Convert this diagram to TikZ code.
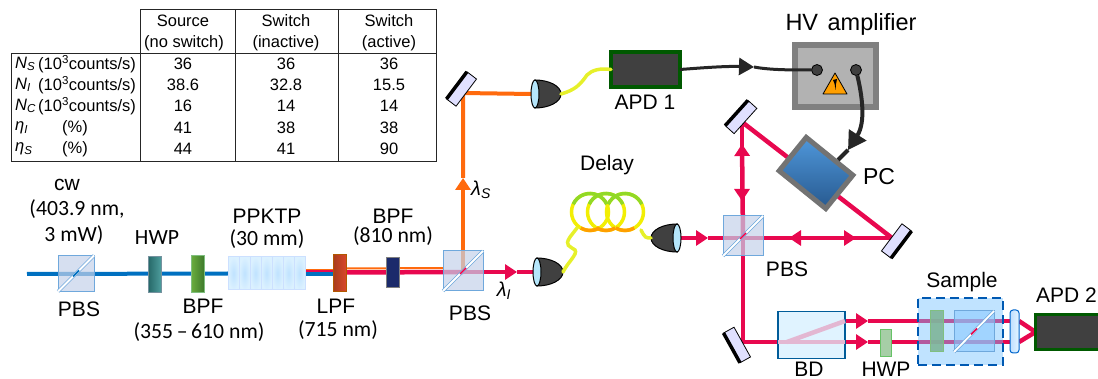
\documentclass[tikz,border=0pt]{standalone}
\usepackage{fontspec}
\setmainfont{Liberation Sans}
\newfontfamily\calfont{Carlito}
\usetikzlibrary{positioning,calc,arrows.meta,backgrounds}
\definecolor{pumpblue}{HTML}{0070C0}
\definecolor{idlerred}{HTML}{E8084F}
\definecolor{signalor}{HTML}{FF6A0D}
\definecolor{fibreyl}{HTML}{E6F02A}
\definecolor{cubefill}{HTML}{C4D2EA}
\definecolor{cubeedge}{HTML}{6FA8DC}
\definecolor{darkbody}{HTML}{404040}
\definecolor{lensblue}{HTML}{B5E6FB}
\definecolor{cablegr}{HTML}{262626}
\definecolor{pinkin}{HTML}{E3B7D2}
\newcommand{\collimator}[4]{%
  \begin{scope}[shift={(#2,#3)},xscale=#4]
    \coordinate (#1lens) at (0,0);
    \coordinate (#1tail) at (30,0);
    \draw [black,line width=1pt,fill=darkbody] (4,-14) .. controls (18,-14) and (30,-8) .. (30,0) .. controls (30,8) and (18,14) .. (4,14) -- cycle;
    \draw [black,line width=1pt,fill=lensblue] (4,0) ellipse (4 and 14);
  \end{scope}}
\begin{document}
\begin{tikzpicture}[x=1pt,y=-1pt]
  \tikzstyle{lab}=[inner sep=0pt,font=\fontsize{21}{24}\selectfont]
  \tikzstyle{cal}=[inner sep=0pt,font=\fontsize{21.7}{24}\selectfont\calfont]
  \tikzstyle{cell}=[inner sep=0pt,font=\fontsize{16.5}{18}\selectfont]
  \tikzstyle{rule}=[draw=black!85,line width=1pt]
  \tikzstyle{plate}=[rectangle,inner sep=0pt,outer sep=0pt,minimum width=13pt,line width=1pt]
  \tikzstyle{cube}=[rectangle,inner sep=0pt,outer sep=0pt,minimum size=40pt,draw=cubeedge,line width=1pt,fill=cubefill,fill opacity=.7]
  \tikzstyle{diag}=[draw=cubeedge,line width=.7pt,double=white,double distance=1.8pt]
  \tikzstyle{crystal}=[rectangle,inner sep=0pt,outer sep=0pt,minimum width=11pt,minimum height=33pt,draw=blue!60!cyan!20,line width=1pt,inner color=blue!45!cyan!25,outer color=blue!40!cyan!14]
  \tikzstyle{mirror}=[rectangle,inner sep=0pt,outer sep=0pt,minimum width=34pt,minimum height=12pt,draw=black,line width=.8pt,fill=blue!12]
  \tikzstyle{mback}=[draw=black,line width=3.5pt]
  \tikzstyle{apd}=[rectangle,inner sep=0pt,outer sep=0pt,draw=green!35!black,line width=3.5pt,fill=darkbody]
  \tikzstyle{pump}=[draw=pumpblue,line width=4pt]
  \tikzstyle{idler}=[draw=idlerred,line width=4.5pt]
  \tikzstyle{signal}=[draw=signalor,line width=4pt]
  \tikzstyle{idlerar}=[idler,-{Triangle[length=12pt,width=15pt]}]
  \tikzstyle{signalar}=[signal,-{Triangle[length=12pt,width=15pt]}]
  \tikzstyle{pinkbeam}=[draw=pinkin,line width=4.5pt]
  \tikzstyle{fibre}=[draw=fibreyl,line width=3.5pt,line cap=round]
  \tikzstyle{coil}=[circle,inner sep=0pt,outer sep=0pt,minimum size=37pt,draw=yellow!95!green,line width=3.5pt]
  \tikzstyle{cable}=[draw=cablegr,line width=3pt]
  \tikzstyle{hole}=[circle,inner sep=0pt,outer sep=0pt,minimum size=11pt,draw=black,line width=.8pt,fill=darkbody]
  \useasboundingbox (0,0) rectangle (1098,379);

  % table
  \draw [rule] (140,10) -- (436,10) -- (436,162) -- (11,162) -- (11,54) -- (436,54);
  \foreach \tx in {140,235,338} \draw [rule] (\tx,10) -- (\tx,162);
  \node [cell] (heada) at (183,21) {Source};
  \node [cell] (headb) at (286,21) {Switch};
  \node [cell] (headc) at (389,21) {Switch};
  \node [cell] (subheada) at (184,43) {(no switch)};
  \node [cell] (subheadb) at (286,43) {(inactive)};
  \node [cell] (subheadc) at (389,43) {(active)};
  \foreach \ry/\rname/\ux/\runit/\va/\vb/\vc in {
    64/{\textit{N}\textsubscript{\textit{S}}}/38/{(10\textsuperscript{3}counts/s)}/36/36/36,
    85/{\textit{N}\textsubscript{\textit{I}}}/38/{(10\textsuperscript{3}counts/s)}/38.6/32.8/15.5,
    106/{\textit{N}\textsubscript{\textit{C}}}/38/{(10\textsuperscript{3}counts/s)}/16/14/14,
    128/{\textit{η}\textsubscript{\textit{I}}}/62/{(\%)}/41/38/38,
    149/{\textit{η}\textsubscript{\textit{S}}}/62/{(\%)}/44/41/90} {
    \node [cell,anchor=west] (rname\ry) at (15,\ry) {\rname};
    \node [cell,anchor=west] (runit\ry) at (\ux,\ry) {\runit};
    \node [cell] (vala\ry) at (183,\ry) {\va};
    \node [cell] (valb\ry) at (286,\ry) {\vb};
    \node [cell] (valc\ry) at (389,\ry) {\vc};
  }

  % source line
  \coordinate (laser) at (27,274);
  \node [cube,minimum size=36pt] (pbsa) at (76,273.5) {};
  \node [plate,minimum height=36pt,draw=cyan!40!black!70,left color=cyan!30!black!85,right color=cyan!45!black!70] (hwpa) at (154.5,275) {};
  \definecolor{bpfleft}{HTML}{6BAE3E}
  \definecolor{bpfright}{HTML}{3F7A2C}
  \node [plate,minimum height=37pt,draw=green!50!black!50,left color=bpfleft,right color=bpfright] (bpfa) at (197.5,274.5) {};
  \foreach \k in {0,...,6} \node [crystal] (ppktp\k) at ({233.5+11*\k},273.5) {};
  \definecolor{lpfleft}{HTML}{A83C1C}
  \definecolor{lpfright}{HTML}{D8482A}
  \node [plate,minimum height=37pt,draw=orange!70!black,left color=lpfleft,right color=lpfright] (lpf) at (339.5,273.5) {};
  \definecolor{bpfnavy}{HTML}{1B2A6B}
  \node [plate,minimum height=30pt,draw=gray,fill=bpfnavy] (bpfb) at (392.5,273) {};
  \node [cube] (pbsb) at (463,271) {};
  \coordinate (pbsbr) at (463,272);
  \coordinate (idlertip) at (517,272);
  \collimator{colla}{533}{272}{1}
  \coordinate (signaltip) at (463,178);
  \node [mirror,rotate=53] (mirrora) at (461.5,89) {};
  \draw [mback] (mirrora.north west) -- (mirrora.north east);
  \coordinate (mirroraf) at (463,93);
  \collimator{collb}{531}{94}{1}
  \node [apd,minimum width=69pt,minimum height=35pt] (apda) at (645.5,69.5) {};

  % delay
  \node [coil] (coila) at (590,212) {};
  \node [coil] (coilb) at (606,212) {};
  \node [coil] (coilc) at (625,212) {};
  \foreach \cn in {coila,coilb,coilc} {
    \draw [draw=green!40!yellow!70!gray,line width=3.5pt] ([shift={(205:18.5)}]\cn.center) arc [start angle=205,end angle=335,radius=18.5];
    \draw [draw=orange!75!yellow,line width=3.5pt] ([shift={(60:18.5)}]\cn.center) arc [start angle=60,end angle=120,radius=18.5];
  }
  \draw [fibre] (collatail) .. controls (568,262) and (578,254) .. (575,250) .. controls (570,246) and (564,246) .. (570,237) -- (577,228);
  \collimator{collc}{681}{238}{-1}
  \draw [fibre] (641,230) .. controls (645,238) and (646,238) .. (collctail);
  \draw [fibre] (collbtail) .. controls (575,90) and (580,85) .. (587,75) .. controls (592,70) and (600,68) .. (apda.west);

  % switch
  \node [cube] (pbsc) at (743,236) {};
  \coordinate (pbscc) at (743,238);
  \coordinate (tipa) at (708,238);
  \coordinate (tipb) at (789,238);
  \coordinate (tipc) at (856,238);
  \coordinate (tipd) at (742,144);
  \coordinate (tipe) at (742,201);
  \node [mirror,rotate=48] (mirrorb) at (741,117) {};
  \draw [mback] (mirrorb.north west) -- (mirrorb.north east);
  \coordinate (mirrorbf) at (742,122);
  \node [mirror,rotate=53] (mirrorc) at (896.5,241) {};
  \draw [mback] (mirrorc.south west) -- (mirrorc.south east);
  \coordinate (mirrorcf) at (892,238);
  \node [mirror,rotate=-61] (mirrord) at (737,345) {};
  \draw [mback] (mirrord.south west) -- (mirrord.south east);
  \coordinate (mirrordf) at (743,342);
  \definecolor{pctop}{HTML}{4F97DA}
  \definecolor{pcbot}{HTML}{27598F}
  \node [rectangle,inner sep=0pt,outer sep=0pt,minimum width=60pt,minimum height=43pt,rotate=-39,draw=black!55,line width=5pt,top color=pctop,bottom color=pcbot] (pc) at (816,173) {};
  \coordinate (pcport) at (838,160);

  % HV amplifier
  \node [rectangle,inner sep=0pt,outer sep=0pt,minimum width=81pt,minimum height=62pt,draw=black!50,line width=6pt,fill=black!30] (hv) at (835.5,76) {};
  \node [hole] (holea) at (817,70) {};
  \node [hole] (holeb) at (856,70) {};
  \draw [draw=black,line width=.8pt,fill=orange!75!yellow,line join=round] (835,73) -- (847,94) -- (823,94) -- cycle;
  \fill [black] (833,80) -- (837,79) -- (836,84) -- (835.5,90) -- (834.6,84) -- cycle;
  \coordinate (cabletip) at (754,67);
  \coordinate (cablepc) at (848,150);
  \draw [cable,-{Triangle[length=15pt,width=17pt]}] (apda.east) .. controls (700,68) and (725,66) .. (cabletip);
  \draw [cable] (cabletip) .. controls (770,70) and (790,70) .. (holea);
  \draw [cable,line width=4pt,-{Triangle[length=18pt,width=20pt]}] (holeb) .. controls (862,95) and (866,122) .. (cablepc);
  \draw [cable,line width=4pt] (cablepc) -- (pcport);

  % analysis
  \node [rectangle,inner sep=0pt,outer sep=0pt,minimum width=67pt,minimum height=47pt,draw=blue!40!cyan!60!black,line width=1.3pt,fill=blue!40!cyan!12] (bd) at (811.5,335) {};
  \coordinate (bdup) at (845,321);
  \coordinate (bdlow) at (845,342);
  \coordinate (bdin) at (778,342);
  \coordinate (bdmid) at (787,342);
  \draw [pinkbeam] (bdin) -- (bdlow);
  \draw [pinkbeam] (bdmid) -- (bdup);
  \coordinate (tipf) at (868,321);
  \coordinate (tipg) at (868,342);
  \node [plate,minimum width=11pt,minimum height=27pt,draw=green!60!black!60,fill=green!45!black!35] (hwpb) at (886,343) {};
  \node [rectangle,inner sep=0pt,outer sep=0pt,minimum width=85pt,minimum height=67pt,draw=blue!50!cyan!70!black,dash pattern=on 9pt off 5pt,line width=2pt,fill=blue!45!cyan!55,fill opacity=.45] (sample) at (960.5,331.5) {};
  \definecolor{platecol}{HTML}{7FB59A}
  \node [plate,minimum height=41pt,draw=green!50!black!50,fill=platecol,fill opacity=.9] (plateb) at (936.5,331.5) {};
  \node [cube,minimum width=40pt,minimum height=41pt,fill=blue!45!cyan!45,fill opacity=.6] (pbsd) at (974,331.5) {};
  \node [rectangle,rounded corners=3pt,inner sep=0pt,outer sep=0pt,minimum width=9pt,minimum height=43pt,draw=blue!50!cyan!80!black,line width=1pt,left color=blue!50!cyan!25,right color=blue!40!cyan!10] (lens) at (1014.5,331.5) {};
  \coordinate (lensup) at (1019,321);
  \coordinate (lenslow) at (1019,342);
  \node [apd,minimum width=75pt,minimum height=35pt] (apdb) at (1073,332) {};

  % diagonals of the cubes
  \foreach \cb/\bm in {pbsa/pumpblue,pbsb/idlerred,pbsc/idlerred,pbsd/idlerred} {
    \draw [diag] (\cb.south west) -- (\cb.north east);
    \draw [draw=\bm,line width=1.5pt] ($(\cb.center)+(-3,3)$) -- ($(\cb.center)+(3,-3)$);
  }

  % beams
  \begin{scope}[on background layer]
    \draw [pump] (laser) -- (ppktp0.west);
    \draw [signal,line width=1.5pt] ($(ppktp6.east)+(0,-4)$) -- ($(lpf.west)+(0,-4)$);
    \draw [idler,line width=1.5pt] ($(ppktp6.east)+(0,-2.5)$) -- ($(lpf.west)+(0,-2.5)$);
    \draw [pump] ($(ppktp6.east)+(0,.5)$) -- ($(lpf.west)+(0,.5)$);
    \draw [signal,line width=2pt] ($(lpf.east)+(0,-5)$) -- ($(pbsb.west)+(0,-3)$);
    \draw [idler] ($(lpf.east)+(0,-1)$) -- (pbsbr);
    \draw [idlerar] (pbsbr) -- (idlertip);
    \draw [idler] (idlertip) -- (collalens);
    \draw [signalar] (pbsbr) -- (signaltip);
    \draw [signal] (signaltip) -- (mirroraf) -- (collblens);
    \draw [idlerar] (collclens) -- (tipa);
    \draw [idler] (tipa) -- (pbscc) -- (mirrorcf);
    \draw [idlerar] (pbscc) -- (tipc);
    \draw [idlerar] (mirrorcf) -- (tipb);
    \draw [idlerar] (pbscc) -- (tipd);
    \draw [idlerar] (mirrorbf) -- (tipe);
    \draw [idler] (mirrorbf) -- (mirrorcf);
    \draw [idler] (pbscc) -- (mirrordf) -- (bdin);
    \draw [idlerar] (bdup) -- (tipf);
    \draw [idlerar] (bdlow) -- (tipg);
    \draw [idler] (tipf) -- (lensup);
    \draw [idler] (tipg) -- (lenslow);
    \draw [idler] (lensup) -- (apdb.west);
    \draw [idler] (lenslow) -- (apdb.west);
  \end{scope}

  % labels
  \node [lab] (labcw) at (67,185) {cw};
  \node [cal] (labpower) at (77,209) {(403.9 nm,};
  \node [cal] (labmw) at (74,235) {3 mW)};
  \node [lab] (labpbsa) at (79,309) {PBS};
  \node [cal] (labhwpa) at (157,238) {HWP};
  \node [lab] (labbpfa) at (203,306) {BPF};
  \node [cal] (labbpfan) at (199,332) {(355\,–\,610 nm)};
  \node [lab] (labppktp) at (267,216) {PPKTP};
  \node [cal] (labmm) at (267,239) {(30 mm)};
  \node [lab] (lablpf) at (336,306) {LPF};
  \node [cal] (lablpfn) at (338,330) {(715 nm)};
  \node [lab] (labbpfb) at (393,216) {BPF};
  \node [cal] (labbpfbn) at (393,236) {(810 nm)};
  \node [lab] (labpbsb) at (470,313) {PBS};
  \node [cell,font=\fontsize{20}{20}\selectfont] (lamsig) at (481,190) {\textit{λ}\textsubscript{\textit{S}}};
  \node [cell,font=\fontsize{20}{20}\selectfont] (lamidl) at (504,291) {\textit{λ}\textsubscript{\textit{I}}};
  \node [lab] (labdelay) at (607,165) {Delay};
  \node [lab] (labapda) at (645,102) {APD 1};
  \node [lab,font=\fontsize{23.5}{26}\selectfont] (labhv) at (851,24) {HV\hspace{3pt} amplifier};
  \node [lab,font=\fontsize{23}{26}\selectfont] (labpc) at (879,177) {PC};
  \node [lab] (labpbsc) at (787,269) {PBS};
  \node [lab] (labbd) at (809,369.5) {BD};
  \node [lab] (labhwpb) at (886,369.5) {HWP};
  \node [lab] (labsample) at (962,282) {Sample};
  \node [lab,anchor=east] (labapdb) at (1097,295) {APD 2};
\end{tikzpicture}
\end{document}
